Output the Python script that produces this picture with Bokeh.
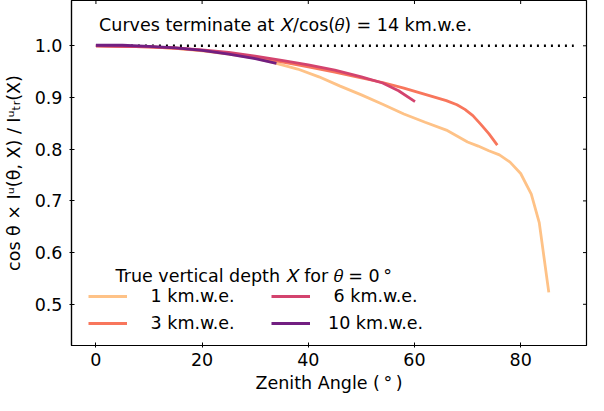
import math
from bokeh.plotting import figure
from bokeh.models import Legend, LegendItem, Label, Range1d, FixedTicker
from bokeh.embed import file_html
from bokeh.resources import INLINE

# ---- data ----
theta_1 = [0, 5, 10, 15, 20, 25, 30, 34, 38, 42, 46, 50, 54, 58, 62, 66, 70, 72, 74, 76, 78, 80, 82, 83.5, 85.3]
ratio_1 = [1.000, 0.999, 0.998, 0.995, 0.990, 0.984, 0.976, 0.966, 0.955, 0.940, 0.922, 0.905, 0.887, 0.868, 0.852, 0.837, 0.814, 0.806, 0.797, 0.789, 0.775, 0.753, 0.713, 0.658, 0.523]

theta_3 = [0, 5, 10, 15, 20, 25, 30, 35, 40, 45, 50, 54, 58, 62, 66, 68, 69.5, 71, 72.5, 74, 75.6]
ratio_3 = [1.000, 0.999, 0.998, 0.995, 0.991, 0.985, 0.978, 0.969, 0.959, 0.949, 0.938, 0.929, 0.918, 0.906, 0.894, 0.886, 0.877, 0.865, 0.848, 0.830, 0.808]

theta_6 = [0, 5, 10, 15, 20, 25, 30, 35, 40, 45, 50, 54, 57, 60.1]
ratio_6 = [1.000, 0.999, 0.998, 0.996, 0.992, 0.987, 0.980, 0.972, 0.963, 0.953, 0.940, 0.928, 0.913, 0.892]

theta_10 = [0, 5, 10, 15, 20, 25, 30, 34]
ratio_10 = [1.001, 1.001, 0.999, 0.996, 0.991, 0.984, 0.975, 0.966]

ref_theta = [0, 90]
ref_ratio = [1.0, 1.0]

series_labels = ["\u00a01 km.w.e.", "\u00a03 km.w.e.", "\u00a06 km.w.e.", "10 km.w.e."]
series_colors = ["#FEC287", "#F8765C", "#D3436E", "#721F81"]

x_ticks = [0, 20, 40, 60, 80]
y_ticks = [0.5, 0.6, 0.7, 0.8, 0.9, 1.0]
y_tick_labels = ["0.5", "0.6", "0.7", "0.8", "0.9", "1.0"]

X_START, X_END = -4.6, 92.4
Y_START, Y_END = 0.4203, 1.0876

FONT = "DejaVu Sans"
FS = "17.5px"

p = figure(width=588, height=395,
           x_range=Range1d(X_START, X_END), y_range=Range1d(Y_START, Y_END),
           output_backend="svg", toolbar_location=None,
           min_border_left=66, min_border_right=2, min_border_top=0, min_border_bottom=50)
p.xgrid.visible = False
p.ygrid.visible = False
p.outline_line_color = "black"
p.outline_line_width = 1.2
p.outline_line_alpha = 1.0

# axes
for ax in (p.xaxis[0], p.yaxis[0]):
    ax.major_label_text_font = FONT
    ax.major_label_text_font_size = FS
    ax.major_label_text_color = "black"
    ax.axis_label_text_font = FONT
    ax.axis_label_text_font_size = FS
    ax.axis_label_text_font_style = "normal"
    ax.axis_label_text_color = "black"
    ax.major_tick_in = 3
    ax.major_tick_out = 2
    ax.major_tick_line_color = "black"
    ax.minor_tick_line_color = None
    ax.axis_line_width = 1.2
    ax.axis_line_color = "black"

p.xaxis[0].major_label_standoff = 5
p.xaxis[0].axis_label_standoff = 4
p.yaxis[0].major_label_standoff = 7
p.yaxis[0].axis_label_standoff = 8

p.xaxis[0].ticker = FixedTicker(ticks=x_ticks)
p.yaxis[0].ticker = FixedTicker(ticks=y_ticks)
p.yaxis[0].major_label_overrides = {t: s for t, s in zip(y_ticks, y_tick_labels)}
p.xaxis[0].axis_label = "Zenith Angle (\u2009\u00b0\u2009)"
p.yaxis[0].axis_label = "cos \u03b8 \u00d7 I\u1d58(\u03b8, X) / I\u1d58\u209c\u1d63(X)"

# inward tick marks on the top and right spines (frame-clipped dash markers)
p.scatter(x_ticks, [Y_END] * len(x_ticks), marker="dash", size=7, angle=math.pi / 2,
          line_color="black", line_width=1)
p.scatter([X_END] * len(y_ticks), y_ticks, marker="dash", size=7,
          line_color="black", line_width=1)

# reference dotted line
p.line(ref_theta, ref_ratio, line_color="black", line_width=2.4, line_dash="2 5")

renderers = []
for th, r, c in zip([theta_1, theta_3, theta_6, theta_10],
                    [ratio_1, ratio_3, ratio_6, ratio_10], series_colors):
    renderers.append(p.line(th, r, line_color=c, line_width=2.8))

def make_legend(items, loc):
    lg = Legend(items=items, location=loc, orientation="vertical",
                glyph_width=39, glyph_height=20, label_standoff=18, spacing=7,
                padding=0, margin=0, border_line_color=None, background_fill_alpha=0,
                label_text_font=FONT, label_text_font_size=FS, label_height=20,
                label_text_color="black")
    return lg

leg1 = make_legend([LegendItem(label=series_labels[0], renderers=[renderers[0]]),
                    LegendItem(label=series_labels[1], renderers=[renderers[1]])], (17, 12))
leg2 = make_legend([LegendItem(label=series_labels[2], renderers=[renderers[2]]),
                    LegendItem(label=series_labels[3], renderers=[renderers[3]])], (200, 12))
p.add_layout(leg1)
p.add_layout(leg2)

p.add_layout(Label(x=3.7, y=0.555, text="True vertical depth \U0001d44b for \U0001d703 = 0\u2009\u00b0",
                   text_font=FONT, text_font_size=FS, text_baseline="alphabetic",
                   text_color="black"))
p.add_layout(Label(x=0.6, y=1.041, text="Curves terminate at \U0001d44b/cos(\U0001d703) = 14 km.w.e.",
                   text_font=FONT, text_font_size=FS, text_baseline="alphabetic",
                   text_color="black"))

open("out.html", "w").write(file_html(p, INLINE))
